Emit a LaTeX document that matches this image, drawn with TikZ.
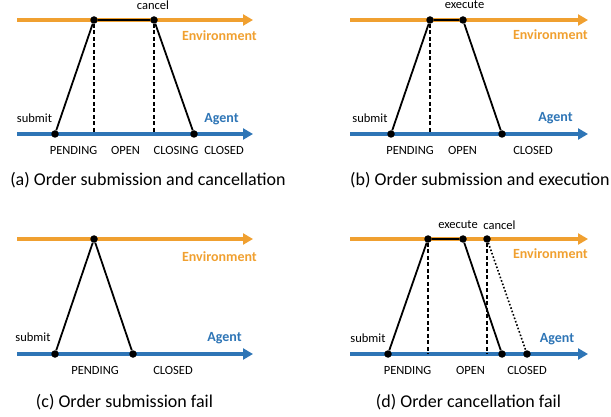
\documentclass[tikz,border=0pt]{standalone}
\usepackage{fontspec}
\setmainfont{Carlito}
\usetikzlibrary{arrows.meta}
\definecolor{envorange}{HTML}{F0A030}
\definecolor{agentblue}{HTML}{2E75B6}
\tikzset{
    timeline/.style = {
        line width=3.5pt,
        -{Triangle[length=10pt,width=11pt]},
        },
    env line/.style = {
        timeline,
        draw=envorange,
        },
    agent line/.style = {
        timeline,
        draw=agentblue,
        },
    event/.style = {
        circle,
        fill=black,
        inner sep=0pt,
        minimum size=7.5pt,
        },
    link/.style = {
        draw,
        line width=1.8pt,
        },
    phase line/.style = {
        draw,
        line width=1.1pt,
        dash pattern=on 4pt off 2.5pt,
        },
    late link/.style = {
        draw,
        line width=1.6pt,
        dotted,
        },
    small label/.style = {
        font=\fontsize{12.5}{14}\selectfont,
        inner sep=0pt,
        },
    env label/.style = {
        font=\bfseries\fontsize{14}{16}\selectfont,
        text=envorange,
        inner sep=0pt,
        anchor=east,
        },
    agent label/.style = {
        font=\bfseries\fontsize{14}{16}\selectfont,
        text=agentblue,
        inner sep=0pt,
        },
    caption/.style = {
        font=\fontsize{18}{20}\selectfont,
        inner sep=0pt,
        },
}

\begin{document}
\begin{tikzpicture}[x=1pt, y=-1pt]
    \useasboundingbox (0,0) rectangle (611,417);

    % (a) submission and cancellation
    \coordinate (envA0) at (17,20);
    \coordinate (envA1) at (253,20);
    \coordinate (agA0) at (17,134);
    \coordinate (agA1) at (253,134);
    \draw[env line] (envA0) -- (envA1);
    \draw[agent line] (agA0) -- (agA1);
    \node[event] (a-submit) at (55,134) {};
    \node[event] (a-open) at (94,20) {};
    \node[event] (a-cancel) at (154,20) {};
    \node[event] (a-closed) at (194,134) {};
    \draw[link] (a-submit) -- (a-open) -- (a-cancel) -- (a-closed);
    \draw[phase line] (a-open) -- (a-open |- agA0);
    \draw[phase line] (a-cancel) -- (a-cancel |- agA0);
    \node[small label] (a-cancel-txt) at (153,5) {cancel};
    \node[env label] (a-env) at (257,36) {Environment};
    \node[agent label] (a-agent) at (221.5,119) {Agent};
    \node[small label] (a-submit-txt) at (34.5,118) {submit};
    \node[small label] (a-pending) at (73.5,150) {PENDING};
    \node[small label] (a-opentxt) at (125.5,150) {OPEN};
    \node[small label] (a-closing) at (176,150) {CLOSING};
    \node[small label] (a-closedtxt) at (224,150) {CLOSED};
    \node[caption] (a-cap) at (148,180) {(a) Order submission and cancellation};

    % (b) submission and execution
    \coordinate (envB0) at (350,20);
    \coordinate (envB1) at (588,20);
    \coordinate (agB0) at (350,134);
    \coordinate (agB1) at (588,134);
    \draw[env line] (envB0) -- (envB1);
    \draw[agent line] (agB0) -- (agB1);
    \node[event] (b-submit) at (391,134) {};
    \node[event] (b-open) at (430,20) {};
    \node[event] (b-execute) at (463,20) {};
    \node[event] (b-closed) at (502,134) {};
    \draw[link] (b-submit) -- (b-open) -- (b-execute) -- (b-closed);
    \draw[phase line] (b-open) -- (b-open |- agB0);
    \node[small label] (b-execute-txt) at (464.5,5) {execute};
    \node[env label] (b-env) at (588,35) {Environment};
    \node[agent label] (b-agent) at (555.5,118) {Agent};
    \node[small label] (b-submit-txt) at (370,118) {submit};
    \node[small label] (b-pending) at (410,150) {PENDING};
    \node[small label] (b-opentxt) at (462.5,150) {OPEN};
    \node[small label] (b-closedtxt) at (533,150) {CLOSED};
    \node[caption, anchor=west] (b-cap) at (350,180) {(b) Order submission and execution};

    % (c) submission fail
    \coordinate (envC0) at (17,239);
    \coordinate (envC1) at (253,239);
    \coordinate (agC0) at (17,354);
    \coordinate (agC1) at (253,354);
    \draw[env line] (envC0) -- (envC1);
    \draw[agent line] (agC0) -- (agC1);
    \node[event] (c-submit) at (55,354) {};
    \node[event] (c-reject) at (94,239) {};
    \node[event] (c-closed) at (133,354) {};
    \draw[link] (c-submit) -- (c-reject) -- (c-closed);
    \node[env label] (c-env) at (257,257) {Environment};
    \node[agent label] (c-agent) at (224.5,338) {Agent};
    \node[small label] (c-submit-txt) at (33,337) {submit};
    \node[small label] (c-pending) at (95,370.5) {PENDING};
    \node[small label] (c-closedtxt) at (173,370.5) {CLOSED};
    \node[caption] (c-cap) at (124.5,402.5) {(c) Order submission fail};

    % (d) cancellation fail
    \coordinate (envD0) at (350,239);
    \coordinate (envD1) at (588,239);
    \coordinate (agD0) at (350,354);
    \coordinate (agD1) at (588,354);
    \draw[env line] (envD0) -- (envD1);
    \draw[agent line] (agD0) -- (agD1);
    \node[event] (d-submit) at (388,354) {};
    \node[event] (d-open) at (428,239) {};
    \node[event] (d-execute) at (463,239) {};
    \node[event] (d-cancel) at (487,239) {};
    \node[event] (d-closed) at (502,354) {};
    \node[event] (d-late) at (527,354) {};
    \draw[link] (d-submit) -- (d-open) -- (d-execute) -- (d-closed);
    \draw[late link] (d-cancel) -- (d-late);
    \draw[phase line] (d-open) -- (d-open |- agD0);
    \draw[phase line] (d-cancel) -- (d-cancel |- agD0);
    \node[small label] (d-execute-txt) at (458,225) {execute};
    \node[small label] (d-cancel-txt) at (499.5,225) {cancel};
    \node[env label] (d-env) at (588,254) {Environment};
    \node[agent label] (d-agent) at (557,339) {Agent};
    \node[small label] (d-submit-txt) at (368,338) {submit};
    \node[small label] (d-pending) at (407.5,370) {PENDING};
    \node[small label] (d-opentxt) at (470.5,370) {OPEN};
    \node[small label] (d-closedtxt) at (527,370) {CLOSED};
    \node[caption] (d-cap) at (468.5,402) {(d) Order cancellation fail};
\end{tikzpicture}
\end{document}
